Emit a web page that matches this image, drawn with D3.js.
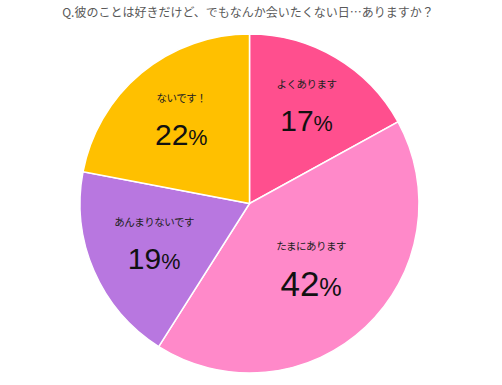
<!DOCTYPE html>
<html lang="ja">
<head>
<meta charset="UTF-8">
<script src="https://d3js.org/d3.v7.min.js"></script>
<style>
  body { margin: 0; background: #fff; }
  svg { display: block; }
</style>
</head>
<body>
<svg id="chart" width="502" height="385"></svg>
<script>
  const title = "Q.彼のことは好きだけど、でもなんか会いたくない日…ありますか？";
  const categories = ["よくあります", "たまにあります", "あんまりないです", "ないです！"];
  const values = [17, 42, 19, 22];
  const colors = ["#FF4F8E", "#FF89C9", "#B877E0", "#FFC000"];

  const svg = d3.select("#chart");
  const cx = 249.5, cy = 203.5, radius = 169.5;

  svg.append("text")
      .attr("x", 248)
      .attr("y", 17)
      .attr("text-anchor", "middle")
      .attr("font-family", "'Noto Sans CJK JP', sans-serif")
      .attr("font-size", 12)
      .attr("fill", "#595959")
      .text(title);

  const data = categories.map((c, i) => ({ name: c, value: values[i], color: colors[i] }));

  const pie = d3.pie().sort(null).value(d => d.value);
  const arcs = pie(data);
  const arc = d3.arc().innerRadius(0).outerRadius(radius);

  const g = svg.append("g").attr("transform", `translate(${cx},${cy})`);

  g.selectAll("path")
    .data(arcs)
    .join("path")
      .attr("d", arc)
      .attr("fill", d => d.data.color)
      .attr("stroke", "#fff")
      .attr("stroke-width", 1.5);

  // label distance from centre, per slice
  const labelRadius = [112, 90, 104, 107];
  const numSize = [30, 35, 30, 30];

  const labels = g.selectAll("g.label")
    .data(arcs)
    .join("g")
      .attr("class", "label")
      .attr("transform", (d, i) => {
        const [x, y] = d3.arc().innerRadius(labelRadius[i]).outerRadius(labelRadius[i]).centroid(d);
        return `translate(${x},${y})`;
      });

  labels.append("text")
      .attr("y", -19)
      .attr("text-anchor", "middle")
      .attr("font-family", "'Noto Sans CJK JP', sans-serif")
      .attr("font-size", 10.5)
      .attr("letter-spacing", -0.5)
      .attr("fill", "#222")
      .text(d => d.data.name);

  const num = labels.append("text")
      .attr("y", (d, i) => i === 1 ? 27 : 24)
      .attr("text-anchor", "middle")
      .attr("font-family", "'Liberation Sans', Arial, sans-serif")
      .attr("fill", "#111");
  num.append("tspan")
      .attr("font-size", (d, i) => numSize[i])
      .text(d => d.value);
  num.append("tspan")
      .attr("font-size", (d, i) => numSize[i] * 0.72)
      .text("%");
</script>
</body>
</html>
